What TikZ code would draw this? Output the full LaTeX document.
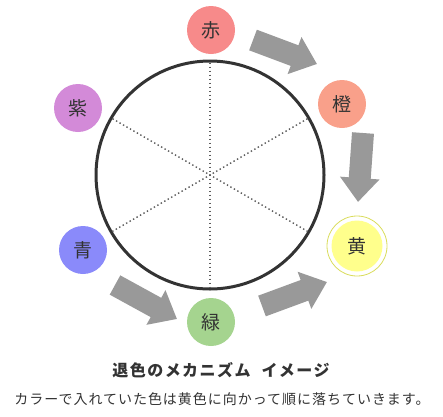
\documentclass[tikz,border=0pt]{standalone}
\usepackage{fontspec}
\newfontfamily\jp{Noto Sans CJK JP}
\usetikzlibrary{arrows.meta, calc}

\definecolor{cRed}{HTML}{F78A8A}
\definecolor{cOrange}{HTML}{F9A08A}
\definecolor{cYellow}{HTML}{FFFF8C}
\definecolor{cRing}{HTML}{D9DC5A}
\definecolor{cGreen}{HTML}{A5D48F}
\definecolor{cBlue}{HTML}{8A8AFA}
\definecolor{cPurple}{HTML}{D38AD8}
\definecolor{cArrow}{HTML}{999999}
\definecolor{ink}{HTML}{333333}

\begin{document}
\begin{tikzpicture}[x=1pt, y=-1pt]
\tikzset{dot/.style={circle, minimum size=48pt, inner sep=0pt, text=ink, font=\jp\fontsize{19}{19}\selectfont},
  blk/.style={draw=cArrow, line width=22pt, -{Triangle[length=24pt, width=38pt]}},
  dotline/.style={draw=ink!80, line width=1.4pt, dash pattern=on 1.4pt off 2.6pt, shorten >=3pt, shorten <=3pt}}
\useasboundingbox (0,0) rectangle (443,416);
\node[draw=ink, line width=3pt, circle, minimum size=228pt, inner sep=0pt] (W) at (210,175) {};
\draw[dotline] (W.90) -- (W.270); \draw[dotline] (W.30) -- (W.210); \draw[dotline] (W.150) -- (W.330);
\node[dot, fill=cRed] (C1) at (211,30) {赤};
\node[dot, fill=cOrange] (C2) at (342,104) {橙};
\node[draw=cRing, line width=0.8pt, circle, minimum size=60pt] (C3r) at (357,246) {};
\node[dot, fill=cYellow, minimum size=51pt] (C3) at (357,246) {黄};
\node[dot, fill=cGreen] (C4) at (211,322) {緑};
\node[dot, fill=cBlue] (C5) at (83,250) {青};
\node[dot, fill=cPurple] (C6) at (78,108) {紫};
\coordinate (A1s) at (253,40); \coordinate (A1e) at (317,64);
\coordinate (A2s) at (363,133); \coordinate (A2e) at (358,202);
\coordinate (A3s) at (115,285); \coordinate (A3e) at (177,319);
\coordinate (A4s) at (262,306); \coordinate (A4e) at (327,282);
\draw[blk] (A1s) -- (A1e); \draw[blk] (A2s) -- (A2e);
\draw[blk] (A3s) -- (A3e); \draw[blk] (A4s) -- (A4e);
\node[text=ink, font=\jp\bfseries\fontsize{16}{16}\selectfont\addfontfeature{LetterSpace=9}] (T1) at (221,370) {退色のメカニズム\hspace{11pt}イメージ};
\node[text=ink, font=\jp\fontsize{14}{14}\selectfont\addfontfeature{LetterSpace=7}] (T2) at (222,399) {カラーで入れていた色は黄色に向かって順に落ちていきます。};
\end{tikzpicture}
\end{document}
